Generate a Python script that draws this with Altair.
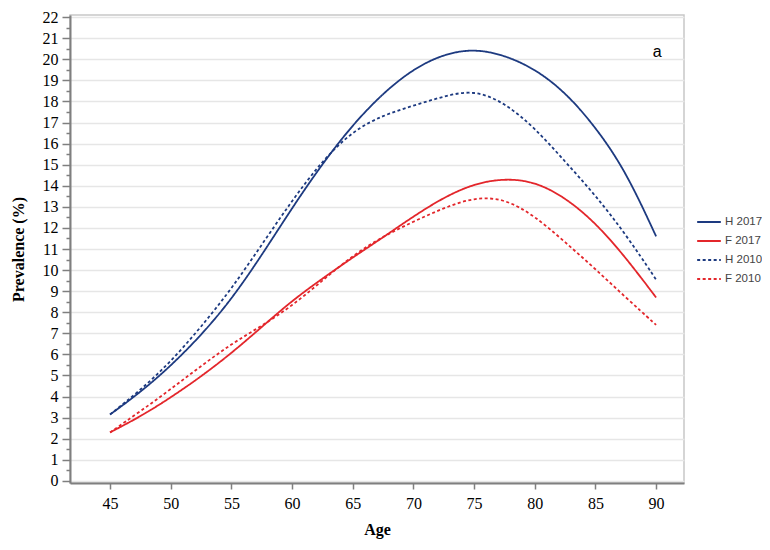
import altair as alt
import pandas as pd

ages = [45, 47.5, 50, 52.5, 55, 57.5, 60, 62.5, 65, 67.5, 70, 72.5, 75, 77.5, 80, 82.5, 85, 87.5, 90]
h2017 = [3.15, 4.2, 5.45, 6.9, 8.6, 10.7, 12.95, 15.05, 16.9, 18.4, 19.55, 20.25, 20.5, 20.2, 19.55, 18.45, 16.8, 14.7, 11.6]
f2017 = [2.3, 3.05, 3.95, 4.95, 6.05, 7.3, 8.55, 9.6, 10.6, 11.55, 12.55, 13.45, 14.1, 14.35, 14.2, 13.45, 12.25, 10.6, 8.7]
h2010 = [3.15, 4.3, 5.65, 7.3, 9.1, 11.2, 13.3, 15.2, 16.6, 17.35, 17.8, 18.25, 18.55, 17.95, 16.75, 15.15, 13.55, 11.7, 9.55]
f2010 = [2.3, 3.3, 4.35, 5.45, 6.5, 7.35, 8.3, 9.5, 10.7, 11.6, 12.3, 12.95, 13.45, 13.4, 12.57, 11.33, 10.05, 8.7, 7.4]

series_names = ["H 2017", "F 2017", "H 2010", "F 2010"]
series_colors = ["#1d3a80", "#e3262b", "#1d3a80", "#e3262b"]
series_dash = [[1, 0], [1, 0], [3, 2.5], [3, 2.5]]

x_ticks = [45, 50, 55, 60, 65, 70, 75, 80, 85, 90]
y_ticks = [v / 2 for v in range(0, 45)]  # major at integers, minor at halves

panel_label = ["a"]
panel_label_age = [90.1]
panel_label_prev = [20.35]

rows = []
for name, vals in zip(series_names, [h2017, f2017, h2010, f2010]):
    for a, v in zip(ages, vals):
        rows.append({"age": a, "prev": v, "series": name})
df = pd.DataFrame(rows)

serif = "Liberation Serif"
xscale = alt.Scale(domain=[41.7, 92.3], nice=False, zero=False)
yscale = alt.Scale(domain=[-0.1, 22.1], nice=False, zero=False)
is_major = "datum.value % 1 === 0"

x_axis = alt.Axis(
    values=x_ticks, title="Age", grid=False, orient="bottom",
    labelFont=serif, labelFontSize=16, labelColor="black", labelPadding=6,
    titleFont=serif, titleFontSize=16, titleFontWeight="bold", titleColor="black",
    titlePadding=10, tickSize=6, tickColor="#7f7f7f", tickWidth=1.5,
    domainColor="#7f7f7f", domainWidth=2, labelOverlap=False,
)
y_axis = alt.Axis(
    values=y_ticks, title="Prevalence (%)", grid=True, orient="left",
    gridColor="#e6e6e6", gridWidth=1.5,
    gridOpacity={"condition": {"test": is_major, "value": 1}, "value": 0},
    labelExpr="datum.value % 1 === 0 ? format(datum.value, 'd') : ''",
    labelFont=serif, labelFontSize=16, labelColor="black", labelPadding=4,
    labelOverlap=False,
    titleFont=serif, titleFontSize=16, titleFontWeight="bold", titleColor="black",
    titlePadding=16,
    tickSize={"condition": {"test": is_major, "value": 8}, "value": 4},
    tickColor="#7f7f7f", tickWidth=1.5,
    domainColor="#7f7f7f", domainWidth=2,
)

legend = alt.Legend(
    title=None, orient="none", legendX=626, legendY=194,
    symbolType="stroke", symbolSize=560, symbolStrokeWidth=2,
    labelFont="Liberation Sans", labelFontSize=11.5, labelColor="#444444",
    rowPadding=0, labelOffset=3,
)

lines = alt.Chart(df).mark_line(strokeWidth=1.8, interpolate="basis").encode(
    x=alt.X("age:Q", scale=xscale, axis=x_axis),
    y=alt.Y("prev:Q", scale=yscale, axis=y_axis),
    color=alt.Color("series:N", scale=alt.Scale(domain=series_names, range=series_colors), legend=legend),
    strokeDash=alt.StrokeDash("series:N", scale=alt.Scale(domain=series_names, range=series_dash), legend=legend),
)

label_df = pd.DataFrame({"t": panel_label, "age": panel_label_age, "prev": panel_label_prev})
label = alt.Chart(label_df).mark_text(font="Liberation Sans", fontSize=16, color="black").encode(
    x=alt.X("age:Q", scale=xscale, axis=x_axis),
    y=alt.Y("prev:Q", scale=yscale, axis=y_axis),
    text="t:N",
)

chart = alt.layer(lines, label).properties(
    width=614, height=468,
    autosize=alt.AutoSizeParams(type="none"),
    padding={"left": 62, "top": 7, "right": 78, "bottom": 59},
    background="white",
).configure_view(stroke="#c8c8c8", strokeWidth=1.5)

chart.save("out.html", embed_options={"renderer": "svg", "actions": False})
